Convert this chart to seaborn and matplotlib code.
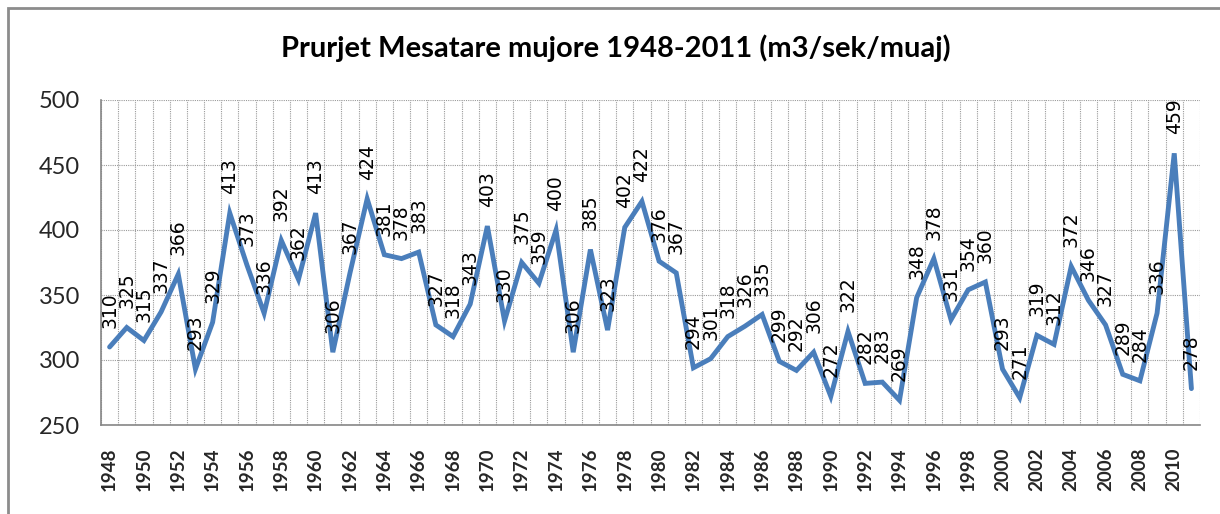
import matplotlib
matplotlib.use("Agg")
import matplotlib.pyplot as plt
import matplotlib.patches as mpatches
import numpy as np
import pandas as pd
import seaborn as sns

# ── Data ──────────────────────────────────────────────────────────────────────
YEARS = list(range(1948, 2012))
FLOW = [310, 325, 315, 337, 366, 293, 329, 413, 373, 336,
        392, 362, 413, 306, 367, 424, 381, 378, 383, 327,
        318, 343, 403, 330, 375, 359, 400, 306, 385, 323,
        402, 422, 376, 367, 294, 301, 318, 326, 335, 299,
        292, 306, 272, 322, 282, 283, 269, 348, 378, 331,
        354, 360, 293, 271, 319, 312, 372, 346, 327, 289,
        284, 336, 459, 278]
Y_TICKS = [250, 300, 350, 400, 450, 500]
TITLE = "Prurjet Mesatare mujore 1948-2011 (m3/sek/muaj)"

# ── Style ─────────────────────────────────────────────────────────────────────
LINE_COLOR = "#4A7EBB"
AXIS_COLOR = "#868686"
GRID_COLOR = "#9A9A9A"

sns.set_style("white")
plt.rcParams["font.family"] = ["Lato", "DejaVu Sans"]

df = pd.DataFrame({"year": YEARS, "flow": FLOW})

fig = plt.figure(figsize=(12.2, 5.14), dpi=100)
ax = fig.add_axes([101 / 1220, 1 - 425 / 514, 1099 / 1220, 325 / 514])

sns.lineplot(data=df, x="year", y="flow", ax=ax, color=LINE_COLOR,
             linewidth=3.5, solid_joinstyle="miter")

# data labels, rotated, above each point
for yr, v in zip(YEARS, FLOW):
    ax.annotate(str(v), (yr, v), xytext=(0, 19), textcoords="offset pixels",
                rotation=90, ha="center", va="bottom", fontsize=13.5,
                family="DejaVu Sans", color="black")

# category-style x axis: marks at boundaries, labels on centres
ax.set_xlim(YEARS[0] - 0.5, YEARS[-1] + 0.5)
ax.set_xticks([y for y in YEARS if y % 2 == 0])
ax.set_xticklabels([str(y) for y in YEARS if y % 2 == 0], rotation=90,
                   fontsize=13.5, fontweight="bold")
ax.set_xticks(np.arange(YEARS[0] - 0.5, YEARS[-1] + 1), minor=True)
ax.tick_params(axis="x", which="major", length=0, pad=16)
ax.tick_params(axis="x", which="minor", length=7, direction="inout",
               color=AXIS_COLOR, width=1)

ax.set_ylim(Y_TICKS[0], Y_TICKS[-1])
ax.set_yticks(Y_TICKS)
ax.tick_params(axis="y", length=7, direction="out", color=AXIS_COLOR,
               width=1, labelsize=17, pad=8)
for lbl in ax.get_yticklabels():
    lbl.set_color("#262626")

ax.grid(axis="y", which="major", color=GRID_COLOR, linestyle=(0, (1, 1)),
        linewidth=0.8)
ax.grid(axis="x", which="minor", color=GRID_COLOR, linestyle=(0, (1, 1)),
        linewidth=0.8)
ax.grid(axis="x", which="major", visible=False)

for side in ["top", "right"]:
    ax.spines[side].set_visible(False)
for side in ["left", "bottom"]:
    ax.spines[side].set_color(AXIS_COLOR)
    ax.spines[side].set_linewidth(1.2)

ax.set_xlabel("")
ax.set_ylabel("")

fig.text(0.505, 1 - 48 / 514, TITLE, ha="center", va="center",
         fontsize=21, fontweight="bold", color="black")

# outer chart border (only left and top edges lie inside the picture)
fig.patches.append(mpatches.Rectangle((8 / 1220, -0.1), 1.2, 1 - 8 / 514 + 0.1,
                                      transform=fig.transFigure, fill=False,
                                      edgecolor="#8C8C8C", linewidth=2))

fig.savefig("out.png", dpi=100, facecolor="white")
